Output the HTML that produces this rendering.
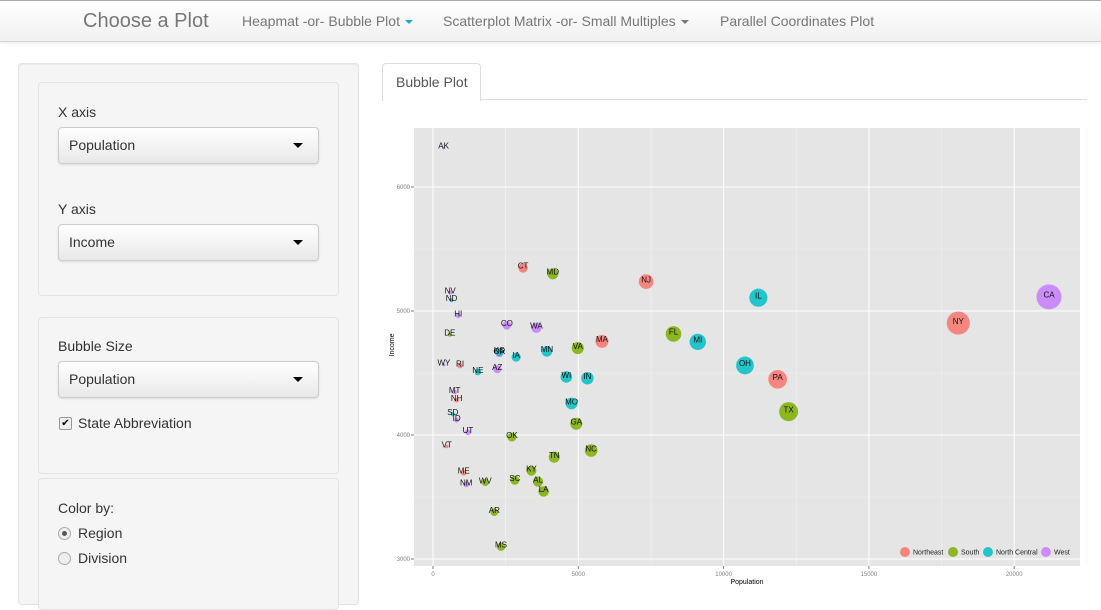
<!DOCTYPE html>
<html><head><meta charset="utf-8">
<style>
body{margin:0;width:1101px;height:587px;overflow:hidden;background:#fff;font-family:"Liberation Sans",sans-serif;position:relative}
.nav{position:absolute;left:0;top:0;width:1101px;height:40px;background:linear-gradient(#fff,#f0f0f0);border-top:1px solid #aaa;border-bottom:1px solid #d4d4d4;box-shadow:0 1px 4px rgba(0,0,0,.08)}
.nav span{position:absolute;color:#777;font-size:14px;top:12px}
.brand{font-size:20px!important;top:9px!important;left:83px}
.caret{display:inline-block;width:0;height:0;border-left:4px solid transparent;border-right:4px solid transparent;border-top:4px solid #777;vertical-align:middle;margin-left:5px}
.well{position:absolute;background:#f5f5f5;border:1px solid #e3e3e3;border-radius:4px;box-shadow:inset 0 1px 1px rgba(0,0,0,.05)}
.lbl{position:absolute;font-size:14px;color:#333}
.sel{position:absolute;left:58px;width:259px;height:35px;border:1px solid #ccc;border-radius:4px;background:linear-gradient(#fff,#e8e8e8);box-shadow:0 1px 2px rgba(0,0,0,.1)}
.sel span{position:absolute;left:10px;top:9px;font-size:14px;color:#333}
.sel i{position:absolute;right:15px;top:15px;border-left:5px solid transparent;border-right:5px solid transparent;border-top:5px solid #000}
</style></head><body>
<div class="nav">
<span class="brand">Choose a Plot</span>
<span style="left:242px">Heapmat -or- Bubble Plot<b class="caret" style="border-top-color:#2a9fd6"></b></span>
<span style="left:443px">Scatterplot Matrix -or- Small Multiples<b class="caret"></b></span>
<span style="left:720px">Parallel Coordinates Plot</span>
</div>
<div class="well" style="left:18px;top:63px;width:339px;height:540px"></div>
<div class="well" style="left:38px;top:82px;width:299px;height:212px;box-shadow:none"></div>
<div class="lbl" style="left:58px;top:104px">X axis</div>
<div class="sel" style="top:127px"><span>Population</span><i></i></div>
<div class="lbl" style="left:58px;top:201px">Y axis</div>
<div class="sel" style="top:224px"><span>Income</span><i></i></div>
<div class="well" style="left:38px;top:317px;width:299px;height:155px;box-shadow:none"></div>
<div class="lbl" style="left:58px;top:338px">Bubble Size</div>
<div class="sel" style="top:361px"><span>Population</span><i></i></div>
<div style="position:absolute;left:59px;top:417px;width:11px;height:11px;border:1px solid #999;border-radius:2px;background:#eee;font-size:10px;line-height:11px;text-align:center">✔</div>
<div class="lbl" style="left:78px;top:415px">State Abbreviation</div>
<div class="well" style="left:38px;top:478px;width:299px;height:130px;box-shadow:none"></div>
<div class="lbl" style="left:58px;top:500px">Color by:</div>
<div style="position:absolute;left:58px;top:527px;width:11px;height:11px;border:1px solid #aaa;border-radius:50%;background:#eee"><div style="margin:3px;width:5px;height:5px;border-radius:50%;background:#555"></div></div>
<div class="lbl" style="left:78px;top:525px">Region</div>
<div style="position:absolute;left:58px;top:552px;width:11px;height:11px;border:1px solid #aaa;border-radius:50%;background:#eee"></div>
<div class="lbl" style="left:78px;top:550px">Division</div>
<div style="position:absolute;left:382px;top:63px;width:97px;height:37px;border:1px solid #ddd;border-bottom:none;border-radius:4px 4px 0 0;background:#fff;z-index:2"><span style="position:absolute;left:13px;top:10px;font-size:14px;color:#555">Bubble Plot</span></div>
<div style="position:absolute;left:382px;top:99px;width:705px;height:1px;background:#ddd"></div>
<svg id="chart" style="position:absolute;left:0;top:0" width="1101" height="587"></svg>
<script>
const states=["AL","AK","AZ","AR","CA","CO","CT","DE","FL","GA","HI","ID","IL","IN","IA","KS","KY","LA","ME","MD","MA","MI","MN","MS","MO","MT","NE","NV","NH","NJ","NM","NY","NC","ND","OH","OK","OR","PA","RI","SC","SD","TN","TX","UT","VT","VA","WA","WV","WI","WY"];
const population=[3615,365,2212,2110,21198,2541,3100,579,8277,4931,868,813,11197,5313,2861,2280,3387,3806,1058,4122,5814,9111,3921,2341,4767,746,1544,590,812,7333,1144,18076,5441,637,10735,2715,2284,11860,931,2816,681,4173,12237,1203,472,4981,3559,1799,4589,376];
const income=[3624,6315,4530,3378,5114,4884,5348,4809,4815,4091,4963,4119,5107,4458,4628,4669,3712,3545,3694,5299,4755,4751,4675,3098,4254,4347,4508,5149,4281,5237,3601,4903,3875,5087,4561,3983,4660,4449,4558,3635,4167,3821,4188,4022,3907,4701,4864,3617,4468,4566];
const region=["S","W","W","S","W","W","NE","S","S","S","W","W","NC","NC","NC","NC","S","S","NE","S","NE","NC","NC","S","NC","W","NC","W","NE","NE","W","NE","S","NC","NC","S","W","NE","NE","S","NC","S","S","W","NE","S","W","S","NC","W"];
const regionKeys=["NE","S","NC","W"];
const regionNames=["Northeast","South","North Central","West"];
const xTicks=[0,5000,10000,15000,20000];
const yTicks=[3000,4000,5000,6000];
const colors={NE:"#F8766D",S:"#7CAE00",NC:"#00BFC4",W:"#C77CFF"};
const NS="http://www.w3.org/2000/svg";
const svg=document.getElementById("chart");
const P={l:414,r:1080,t:128,b:566};
const xs=v=>433+v*145.3/5000;
const ys=v=>559-(v-3000)*0.124;
const pmin=Math.min(...population),pmax=Math.max(...population);
const rs=p=>Math.sqrt(1.5*1.5+(12.5*12.5-2.25)*(p-pmin)/(pmax-pmin));
function el(t,a){const e=document.createElementNS(NS,t);for(const k in a)e.setAttribute(k,a[k]);svg.appendChild(e);return e;}
let bg=el("rect",{x:P.l,y:P.t,width:P.r-P.l,height:P.b-P.t,fill:"#e5e5e5"});


for(let i=0;i<xTicks.length-1;i++){const m=(xTicks[i]+xTicks[i+1])/2;el("line",{x1:xs(m),x2:xs(m),y1:P.t,y2:P.b,stroke:"#f2f2f2","stroke-width":0.6});}
el("line",{x1:xs(22500),x2:xs(22500),y1:P.t,y2:P.b,stroke:"#f2f2f2","stroke-width":0.6});
for(let i=0;i<yTicks.length-1;i++){const m=(yTicks[i]+yTicks[i+1])/2;el("line",{x1:P.l,x2:P.r,y1:ys(m),y2:ys(m),stroke:"#f2f2f2","stroke-width":0.6});}
xTicks.forEach(v=>{const g=el("line",{x1:xs(v),x2:xs(v),y1:P.t,y2:P.b,stroke:"#fff","stroke-width":1});


el("line",{x1:xs(v),x2:xs(v),y1:P.b,y2:P.b+3,stroke:"#7f7f7f"});
const t=el("text",{x:xs(v),y:P.b+10,"font-size":6,fill:"#7f7f7f","text-anchor":"middle"});t.textContent=v;

});
yTicks.forEach(v=>{const g=el("line",{x1:P.l,x2:P.r,y1:ys(v),y2:ys(v),stroke:"#fff","stroke-width":1});


el("line",{x1:P.l-3,x2:P.l,y1:ys(v),y2:ys(v),stroke:"#7f7f7f"});
const t=el("text",{x:P.l-4,y:ys(v)+2,"font-size":6,fill:"#7f7f7f","text-anchor":"end"});t.textContent=v;

});
const order=states.map((s,i)=>i).sort((a,b)=>population[b]-population[a]);
order.forEach(i=>{const c=el("circle",{cx:xs(population[i]),cy:ys(income[i]),r:rs(population[i]),fill:colors[region[i]],"fill-opacity":0.85});

});
order.forEach(i=>{const t=el("text",{x:xs(population[i]),y:ys(income[i])+0.8,"font-size":8,fill:"#111","text-anchor":"middle"});t.textContent=states[i];

});
const yt=el("text",{x:0,y:0,"font-size":7,fill:"#000","text-anchor":"middle",transform:"translate(394,345) rotate(-90)"});yt.textContent="Income";


const xt=el("text",{x:747,y:584,"font-size":7,fill:"#000","text-anchor":"middle"});xt.textContent="Population";


const lx=[905,953,988,1046];
regionKeys.forEach((k,i)=>{const c=el("circle",{cx:lx[i],cy:552,r:5,fill:colors[k],"fill-opacity":0.85});


const t=el("text",{x:lx[i]+8,y:554.5,"font-size":7,fill:"#222"});t.textContent=regionNames[i];

});
</script>
</body></html>
